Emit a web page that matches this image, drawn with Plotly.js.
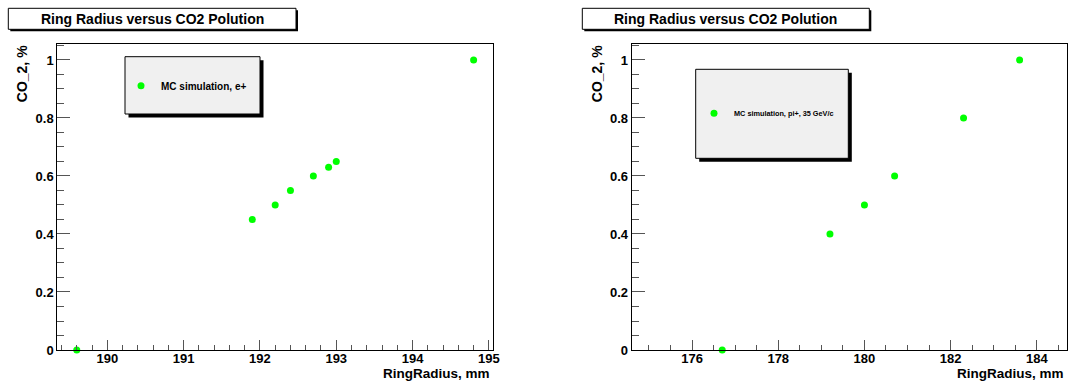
<!DOCTYPE html>
<html>
<head>
<meta charset="utf-8">
<script src="https://cdn.plot.ly/plotly-3.0.1.min.js"></script>
<style>html,body{margin:0;padding:0;background:#fff;}#chart{width:1091px;height:381px;}</style>
</head>
<body>
<div id="chart"></div>
<script>
// ---- data ----
const chartTitle = "Ring Radius versus CO2 Polution";
const xTitle = "RingRadius, mm";
const yTitle = "CO_2, %";
const nameE = "MC simulation, e+";
const namePi = "MC simulation, pi+, 35 GeV/c";
const radiusE = [189.6, 191.9, 192.2, 192.4, 192.7, 192.9, 193.0, 194.8];
const co2E    = [0, 0.45, 0.5, 0.55, 0.6, 0.63, 0.65, 1.0];
const radiusPi = [176.7, 179.2, 180.0, 180.7, 182.3, 183.6];
const co2Pi    = [0, 0.4, 0.5, 0.6, 0.8, 1.0];

// ---- layout helpers ----
const W = 1091, H = 381;
const px = v => v / W;
const py = v => 1 - v / H;
const FONT = "Liberation Sans, Arial, Helvetica, sans-serif";
const GREEN = "#00ff00";

function axisCommon(extra) {
  return Object.assign({
    showline: true, linecolor: "#000", linewidth: 1, mirror: true,
    showgrid: false, zeroline: false,
    ticks: "inside", tickcolor: "#555", tickwidth: 1,
    tickfont: {family: FONT, size: 13, color: "#000", weight: "bold"},
    fixedrange: true
  }, extra);
}

const traces = [
  {x: radiusE, y: co2E, type: "scatter", mode: "markers", name: nameE, cliponaxis: false,
   marker: {color: GREEN, size: 7}, xaxis: "x", yaxis: "y", legend: "legend"},
  {x: radiusPi, y: co2Pi, type: "scatter", mode: "markers", name: namePi, cliponaxis: false,
   marker: {color: GREEN, size: 7}, xaxis: "x2", yaxis: "y2", legend: "legend2"}
];

const yDom = [py(350), py(44.3)];
const layout = {
  width: W, height: H,
  margin: {l: 0, r: 0, t: 0, b: 0},
  paper_bgcolor: "#fff", plot_bgcolor: "#fff",
  showlegend: true,
  xaxis: axisCommon({domain: [px(57.3), px(492.7)], range: [189.345, 195.05], dtick: 1, tick0: 190,
    ticklen: 10, ticklabelstandoff: -4, minor: {dtick: 0.2, ticklen: 5, ticks: "inside", tickcolor: "#555"}, anchor: "y"}),
  yaxis: axisCommon({domain: yDom, range: [0, 1.054], dtick: 0.2, tick0: 0,
    ticklen: 13, minor: {dtick: 0.05, ticklen: 7, ticks: "inside", tickcolor: "#555"}, anchor: "x"}),
  xaxis2: axisCommon({domain: [px(631.7), px(1067)], range: [174.6, 184.7], dtick: 2, tick0: 176,
    ticklen: 10, ticklabelstandoff: -4, minor: {dtick: 0.5, ticklen: 5, ticks: "inside", tickcolor: "#555"}, anchor: "y2"}),
  yaxis2: axisCommon({domain: yDom, range: [0, 1.054], dtick: 0.2, tick0: 0,
    ticklen: 13, minor: {dtick: 0.05, ticklen: 7, ticks: "inside", tickcolor: "#555"}, anchor: "x2"}),
  legend: {x: px(121), xanchor: "left", y: py(85.7), yanchor: "middle",
    bgcolor: "rgba(0,0,0,0)", borderwidth: 0,
    font: {family: FONT, size: 10, color: "#000", weight: "bold"}},
  legend2: {x: px(694), xanchor: "left", y: py(113.3), yanchor: "middle",
    bgcolor: "rgba(0,0,0,0)", borderwidth: 0,
    font: {family: FONT, size: 7.3, color: "#000", weight: "bold"}},
  shapes: [],
  annotations: []
};

function box(x0, y0, x1, y1, fill, sh) {
  layout.shapes.push({type: "rect", xref: "paper", yref: "paper",
    x0: px(x0 + sh), x1: px(x1 + sh), y0: py(y1 + sh), y1: py(y0 + sh),
    fillcolor: "#000", line: {width: 0}, layer: "above"});
  layout.shapes.push({type: "rect", xref: "paper", yref: "paper",
    x0: px(x0), x1: px(x1), y0: py(y1), y1: py(y0),
    fillcolor: fill, line: {color: "#000", width: 1}, layer: "above"});
}
// title boxes
box(8.3, 8.3, 296, 29.3, "#fff", 2);
box(582.3, 8.3, 869.3, 29.3, "#fff", 2);
// legend boxes
box(125, 56.7, 260, 114, "#f0f0f0", 3.5);
box(695.7, 69.3, 848.3, 158.3, "#f0f0f0", 3.5);

function ann(text, x, y, size, opts) {
  layout.annotations.push(Object.assign({
    text: text, xref: "paper", yref: "paper", x: px(x), y: py(y),
    showarrow: false, xanchor: "center", yanchor: "middle",
    font: {family: FONT, size: size, color: "#000", weight: "bold"}
  }, opts || {}));
}
ann(chartTitle, 152.2, 18.8, 14);
ann(chartTitle, 725.8, 18.8, 14);
ann(xTitle, 491.7, 373, 13.5, {xanchor: "right"});
ann(xTitle, 1065.5, 373, 13.5, {xanchor: "right"});
ann(yTitle, 21.7, 73.5, 14, {textangle: -90});
ann(yTitle, 596.7, 73.5, 14, {textangle: -90});

Plotly.newPlot("chart", traces, layout, {staticPlot: true, displayModeBar: false});
</script>
</body>
</html>
